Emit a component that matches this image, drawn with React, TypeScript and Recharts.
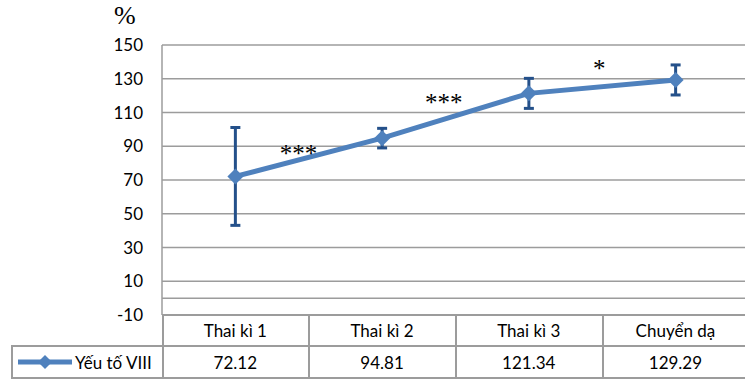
import React from 'react';
import {
    LineChart, Line, XAxis, YAxis, CartesianGrid, ErrorBar, ReferenceLine, ReferenceDot
} from 'recharts';

const categories = ['Thai kì 1', 'Thai kì 2', 'Thai kì 3', 'Chuyển dạ'];
const factorValues = [72.12, 94.81, 121.34, 129.29];
const factorErrors = [29, 5.8, 8.9, 8.9];
const yTicks = [-10, 10, 30, 50, 70, 90, 110, 130, 150];
const seriesName = 'Yếu tố VIII';

// significance marks between stages (x = stage index, y = value)
const marks = [
    { x: 0.43, y: 86, text: '***' },
    { x: 1.42, y: 116, text: '***' },
    { x: 2.48, y: 136.5, text: '*' },
];

const data = categories.map((name, i) => ({
    idx: i,
    name,
    value: factorValues[i],
    err: factorErrors[i],
}));

const FONT = 'Lato, "Open Sans", sans-serif';
const LINE_COLOR = '#4f81bd';
const ERR_COLOR = '#24508a';
const GRID = '#9c9c9c';

const PLOT_LEFT = 162;
const COL_W = 146.7;

const Diamond = (props: any) => {
    const { cx, cy } = props;
    if (cx == null || cy == null) return null;
    const r = 8;
    return (
        <polygon
            points={`${cx},${cy - r} ${cx + r},${cy} ${cx},${cy + r} ${cx - r},${cy}`}
            fill={LINE_COLOR}
        />
    );
};

const cellBase: React.CSSProperties = {
    position: 'absolute',
    display: 'flex',
    alignItems: 'center',
    justifyContent: 'center',
    fontFamily: FONT,
    fontSize: 17,
    color: '#000',
    boxSizing: 'border-box',
};

export default function App() {
    return (
        <div style={{ position: 'fixed', left: 0, top: 0, width: 745, height: 379, overflow: 'hidden', background: '#fff' }}>
            <div style={{ position: 'absolute', left: 114, top: 3, fontFamily: '"Liberation Serif", serif', fontSize: 26, lineHeight: 1 }}>%</div>
            <LineChart width={760} height={379} data={data} margin={{ top: 45, right: 11, bottom: 64, left: 0 }}>
                <CartesianGrid horizontal vertical={false} stroke={GRID} strokeWidth={1.5} />
                <XAxis type="number" dataKey="idx" domain={[-0.5, 3.5]} hide />
                <YAxis
                    type="number"
                    domain={[-10, 150]}
                    ticks={yTicks}
                    width={PLOT_LEFT}
                    axisLine={{ stroke: GRID, strokeWidth: 1.5 }}
                    tickLine={false}
                    tickSize={10}
                    tickMargin={9}
                    tick={{ fill: '#000', fontSize: 17, fontFamily: FONT }}
                    interval={0}
                />
                <ReferenceLine y={0} stroke={GRID} strokeWidth={1.5} />
                {marks.map((m, i) => (
                    <ReferenceDot
                        key={i}
                        x={m.x}
                        y={m.y}
                        r={0}
                        fill="none"
                        stroke="none"
                        label={{ value: m.text, position: 'center', fill: '#000', fontSize: 25, fontFamily: '"Liberation Serif", serif' }}
                    />
                ))}
                <Line
                    type="linear"
                    dataKey="value"
                    stroke={LINE_COLOR}
                    strokeWidth={5}
                    dot={<Diamond />}
                    activeDot={false}
                    isAnimationActive={false}
                >
                    <ErrorBar dataKey="err" direction="y" width={5} stroke={ERR_COLOR} strokeWidth={3} />
                </Line>
            </LineChart>

            {/* data table under the plot */}
            <div style={{ position: 'absolute', left: PLOT_LEFT, top: 314, width: 600, height: 0, borderTop: `2px solid ${GRID}` }} />
            <div style={{ position: 'absolute', left: 11, top: 345, width: 740, height: 0, borderTop: `2px solid ${GRID}` }} />
            <div style={{ position: 'absolute', left: 11, top: 377, width: 740, height: 0, borderTop: `2px solid ${GRID}` }} />
            <div style={{ position: 'absolute', left: 11, top: 345, width: 0, height: 34, borderLeft: `2px solid ${GRID}` }} />
            {categories.map((c, i) => (
                <React.Fragment key={c}>
                    <div style={{ position: 'absolute', left: PLOT_LEFT + COL_W * i - 0.5, top: 314, width: 0, height: 65, borderLeft: `2px solid ${GRID}` }} />
                    <div style={{ ...cellBase, left: PLOT_LEFT + COL_W * i, top: 315, width: COL_W, height: 31 }}>{c}</div>
                    <div style={{ ...cellBase, left: PLOT_LEFT + COL_W * i, top: 346, width: COL_W, height: 32 }}>{factorValues[i].toFixed(2)}</div>
                </React.Fragment>
            ))}
            <div style={{ ...cellBase, left: 13, top: 346, width: 149, height: 32, justifyContent: 'flex-start' }}>
                <svg width={56} height={16} style={{ marginLeft: 4, marginRight: 2 }}>
                    <line x1={1} y1={8} x2={55} y2={8} stroke={LINE_COLOR} strokeWidth={5} />
                    <polygon points="28,1 35,8 28,15 21,8" fill={LINE_COLOR} />
                </svg>
                <span>{seriesName}</span>
            </div>
        </div>
    );
}
